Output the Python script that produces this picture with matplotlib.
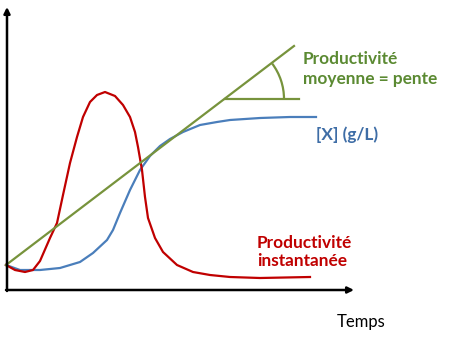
import matplotlib.pyplot as plt
from matplotlib.patches import Arc

# time axis in px-like units, origin at the axes corner
t_x = [-1, 13, 33, 53, 73, 86, 100, 106, 113, 123, 133, 143, 153, 163, 176,
       193, 210, 223, 253, 283, 309]
conc_x = [25, 20, 20, 22, 28, 37, 50, 60, 77, 100, 120, 134, 144, 151, 158,
          165, 168, 170, 172, 173, 173]

t_prod = [-1, 8, 18, 26, 33, 43, 50, 56, 63, 70, 76, 83, 90, 98, 108, 116, 123,
          128, 131, 135, 138, 141, 148, 156, 170, 186, 203, 223, 253, 303]
prod_inst = [25, 20, 18, 20, 29, 52, 67, 95, 127, 153, 173, 188, 195, 198, 194,
             185, 173, 158, 143, 120, 93, 72, 52, 38, 25, 18, 15, 13, 12, 13]

# mean productivity = slope of the secant line
t_mean = [-1, 287]
prod_mean = [25, 244]
t_angle = [218, 292]
angle_y = 191

GREEN = "#77933C"
BLUE = "#4A7EBB"
RED = "#C00000"

fig = plt.figure(figsize=(4.52, 3.43), dpi=100)
ax = fig.add_axes([0, 0, 1, 1])
ax.set_xlim(-7, 445)
ax.set_ylim(-53, 290)
ax.axis("off")

lw = 1.6
ax.plot(t_x, conc_x, color=BLUE, lw=lw, solid_joinstyle="round")
ax.plot(t_prod, prod_inst, color=RED, lw=lw, solid_joinstyle="round")
ax.plot(t_mean, prod_mean, color=GREEN, lw=lw)
ax.plot(t_angle, [angle_y, angle_y], color=GREEN, lw=lw)
ax.add_patch(Arc((t_angle[0], angle_y), 118, 118, theta1=0, theta2=37,
                 color=GREEN, lw=lw))

# axes with arrows
arr = dict(arrowstyle="-|>", lw=1.8, color="black", mutation_scale=9,
           shrinkA=0, shrinkB=0)
ax.annotate("", xy=(347, 0), xytext=(-1, 0), arrowprops=arr)
ax.annotate("", xy=(0, 283), xytext=(0, -1), arrowprops=arr)

font = "Lato"
ax.text(296, 221, "Productivité\nmoyenne = pente", color="#5B8A32",
        fontsize=12.4, fontweight="bold", family=font, va="center",
        linespacing=1.25)
ax.text(309, 155, "[X] (g/L)", color="#3E6DA6", fontsize=12.4,
        fontweight="bold", family=font, va="center")
ax.text(250, 38, "Productivité\ninstantanée", color=RED, fontsize=12.4,
        fontweight="bold", family=font, va="center", linespacing=1.2)
ax.text(330, -32, "Temps", color="black", fontsize=12, family=font,
        va="center")

fig.savefig("out.png", dpi=100)
